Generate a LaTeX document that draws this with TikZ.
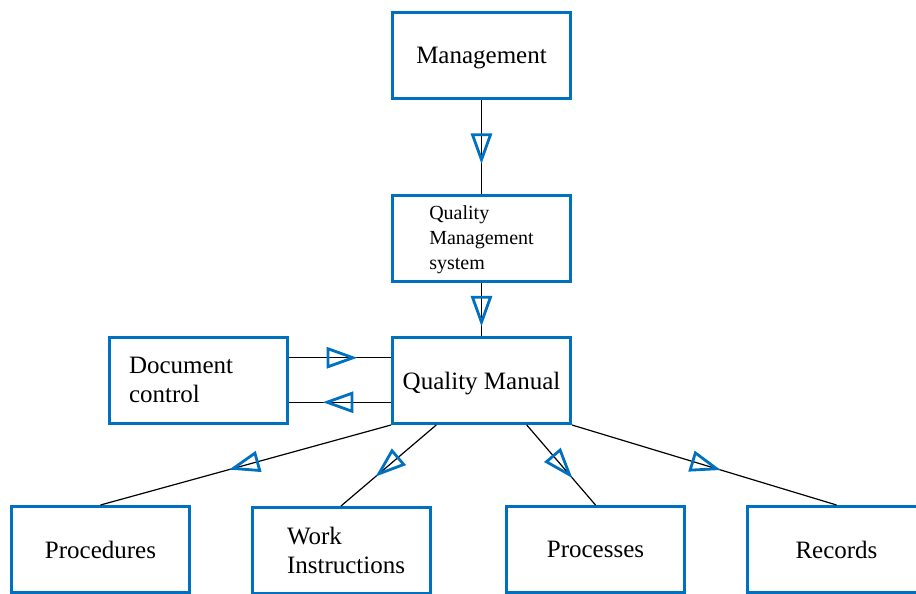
\documentclass[tikz,border=0pt]{standalone}
\usepackage{fontspec}
\setmainfont{Liberation Serif}
\usetikzlibrary{positioning,calc,decorations.markings}
\definecolor{qblue}{RGB}{0,112,192}

\begin{document}
\begin{tikzpicture}[x=0.5pt,y=-0.5pt,
	box/.style={rectangle, draw=qblue, line width=1.5pt, minimum width=89pt, minimum height=43pt,
		inner sep=2pt, font=\fontsize{12.5}{14.5}\selectfont},
	cbox/.style={box, text depth=0pt},
	flow/.style={draw=black, line width=0.6pt, postaction={decorate},
		decoration={markings, mark=at position 0.5 with {\draw[qblue, line width=1.4pt, line join=miter]
			(-6pt,4.5pt) -- (6.5pt,0pt) -- (-6pt,-4.5pt) -- cycle;}}}]
	\clip (0,0) rectangle (916,594);

	\node[cbox] (mgmt) at (481.5,55.5) {Management};
	\node[cbox, align=left, font=\fontsize{10}{12.5}\selectfont] (qms) at (481.5,238) {Quality\\Management\\system};
	\node[cbox] (qm) at (481.5,380.5) {Quality Manual};
	\node[box, text width=69.5pt, align=left] (dc) at (198.5,380) {Document\\control};

	\node[cbox] (proc) at (100.5,549.5) {Procedures};
	\node[box, text width=54pt, align=left] (wi) at (341,550.5) {Work\\Instructions};
	\node[cbox] (procs) at (595.5,549.5) {Processes};
	\node[cbox] (rec) at (836.5,549.5) {Records};

	\coordinate (dcA) at ($(dc.north east)!0.25!(dc.south east)$);
	\coordinate (dcB) at ($(dc.north east)!0.75!(dc.south east)$);

	\draw[flow] (mgmt) -- (qms);
	\draw[flow] (qms) -- (qm);
	\draw[flow] (dcA) -- (dcA -| qm.west);
	\draw[flow] (dcB -| qm.west) -- (dcB);

	\draw[flow] (qm.south west) -- (proc.north);
	\draw[flow] ($(qm.south west)!0.25!(qm.south east)$) -- (wi.north);
	\draw[flow] ($(qm.south west)!0.75!(qm.south east)$) -- (procs.north);
	\draw[flow] (qm.south east) -- (rec.north);
\end{tikzpicture}
\end{document}
